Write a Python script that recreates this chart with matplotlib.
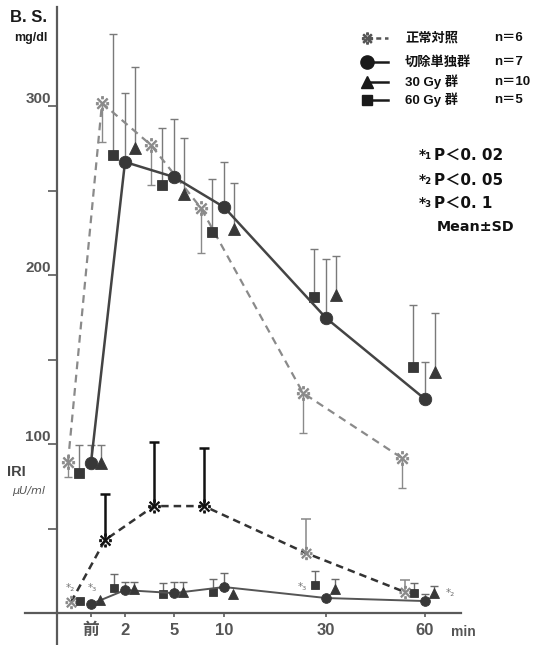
import numpy as np
import matplotlib
matplotlib.use('Agg')
import matplotlib.pyplot as plt
from matplotlib.transforms import ScaledTranslation
from matplotlib.lines import Line2D

plt.rcParams['font.family'] = ['Liberation Sans Narrow', 'Liberation Sans', 'DejaVu Sans']

# 時間 (min)  0 = 前
times = [0, 2, 5, 10, 30, 60]
time_labels = ['前', '2', '5', '10', '30', '60']

# B.S. mg/dl  (mean, SD)
bs_normal = [89.3, 301.8, 276.9, 239.6, 130.2, 91.7]
bs_normal_sd = [8.9, 23.1, 23.6, 26.6, 23.7, 17.8]
bs_resect = [88.8, 266.9, 258.0, 240.2, 174.6, 126.6]
bs_resect_sd = [10.6, 40.8, 34.3, 26.7, 34.9, 21.9]
bs_30gy = [88.8, 275.1, 247.9, 227.2, 188.2, 142.6]
bs_30gy_sd = [10.6, 48.0, 33.2, 27.2, 23.0, 34.9]
bs_60gy = [82.8, 271.0, 253.3, 225.4, 187.0, 145.6]
bs_60gy_sd = [16.6, 71.6, 33.7, 31.4, 28.4, 36.6]

# IRI μU/ml  (mean, SD)
iri_normal = [6.5, 43.2, 63.3, 63.3, 35.5, 12.4]
iri_normal_sd = [np.nan, 27.2, 37.9, 34.3, 20.1, 7.1]
iri_resect = [5.3, 13.6, 11.8, 15.4, 8.9, 7.1]
iri_resect_sd = [np.nan, 4.7, 6.5, 8.3, np.nan, 4.1]
iri_30gy = [7.7, 14.2, 12.4, 11.2, 14.2, 11.8]
iri_30gy_sd = [np.nan, 4.1, 5.9, np.nan, 5.9, 4.2]
iri_60gy = [7.1, 14.8, 11.2, 12.4, 16.6, 11.8]
iri_60gy_sd = [np.nan, 8.3, 6.6, 7.7, 8.3, 6.0]

# points of the normal IRI curve printed in solid black (2, 5, 10 min)
iri_dark = [False, True, True, True, False, False]

W, H = 538, 645
fig = plt.figure(figsize=(W / 100, H / 100), dpi=100)
ax = fig.add_axes([57 / W, 0, 481 / W, 638 / H])

# irregular time axis
knot_t = [-2, 0, 2, 5, 10, 30, 60, 94.2]
knot_p = [57, 91, 125, 174, 224, 326, 425, 538]
ax.set_xscale('function', functions=(lambda x: np.interp(x, knot_t, knot_p),
                                     lambda p: np.interp(p, knot_p, knot_t)))
ax.set_xlim(-2, 94.2)
ax.set_ylim(-18.9, 358.6)

axc = '#5a5a5a'
for s in ['top', 'right']:
    ax.spines[s].set_visible(False)
ax.spines['left'].set_color(axc)
ax.spines['left'].set_linewidth(1.6)
ax.spines['bottom'].set_position(('data', 0))
ax.spines['bottom'].set_bounds(-2, 70.9)
ax.spines['bottom'].set_color(axc)
ax.spines['bottom'].set_linewidth(1.6)
ax.plot([-32 / 481, 0], [0, 0], transform=ax.get_yaxis_transform(), clip_on=False,
        color=axc, lw=1.6)

ax.set_yticks([50, 100, 150, 200, 250, 300], ['', '100', '', '200', '', '300'])
ax.tick_params(axis='y', direction='out', length=6.5, width=1.2, color=axc,
               labelsize=11, labelcolor='#555555', pad=-2)
for lbl in ax.get_yticklabels():
    lbl.set_fontweight('bold')
    lbl.set_va('bottom')

ax.set_xticks(times, time_labels)
ax.tick_params(axis='x', direction='out', length=3, width=1.2, color=axc,
               labelsize=12, labelcolor='#555555', pad=4)
for lbl in ax.get_xticklabels():
    lbl.set_fontweight('bold')
    lbl.set_family(['Liberation Sans Narrow', 'Liberation Sans', 'Noto Sans CJK JP'])


def offset(dx):
    return ax.transData + ScaledTranslation(dx / 100, 0, fig.dpi_scale_trans)


def errbars(t, y, sd, dx, up, color, lw, cap):
    trans = offset(dx)
    sd = np.asarray(sd, float)
    zero = np.zeros_like(sd)
    yerr = [zero, sd] if up else [sd, zero]
    c = ax.errorbar(t, y, yerr=yerr, fmt='none', ecolor=color, elinewidth=lw,
                    capsize=cap, capthick=lw, zorder=2)
    _, caps, bars = c.lines
    caps[0 if up else 1].set_visible(False)
    for a in (*caps, *bars):
        a.set_transform(trans)


def curve(t, y, dx, marker, ms, mcolor, ls='none', lcolor=None, lw=0, dashes=None):
    kw = dict(transform=offset(dx), marker=marker, markersize=ms,
              color=lcolor or mcolor, lw=lw, linestyle=ls, markerfacecolor=mcolor,
              markeredgecolor=mcolor, markeredgewidth=0.6, zorder=3)
    if dashes is not None:
        kw['dashes'] = dashes
    ax.plot(t, y, **kw)


mk = '#383838'
eg = '#7a7a7a'
# B.S.
errbars(times, bs_normal, bs_normal_sd, -23, False, '#8a8a8a', 1.0, 3)
curve(times, bs_normal, -23, '$※$', 10, '#8a8a8a', '--', '#8a8a8a', 1.6, (3.5, 2.5))
errbars(times, bs_60gy, bs_60gy_sd, -12, True, eg, 1.0, 3)
curve(times, bs_60gy, -12, 's', 7.5, mk)
errbars(times, bs_resect, bs_resect_sd, 0, True, eg, 1.0, 3)
curve(times, bs_resect, 0, 'o', 9, mk, '-', '#444444', 1.8)
errbars(times, bs_30gy, bs_30gy_sd, 10, True, eg, 1.0, 3)
curve(times, bs_30gy, 10, '^', 8.5, mk)

# IRI
dark = np.array(iri_dark)
sd_n = np.asarray(iri_normal_sd)
t_arr, y_arr = np.asarray(times), np.asarray(iri_normal)
errbars(times, iri_normal, np.where(dark, sd_n, np.nan), -20, True, '#111111', 1.8, 3.6)
errbars(times, iri_normal, np.where(dark, np.nan, sd_n), -20, True, '#888888', 1.1, 3.3)
curve(times, iri_normal, -20, None, 0, '#333333', '--', '#333333', 1.8, (3, 2))
curve(t_arr[dark], y_arr[dark], -20, '$※$', 9.5, '#111111')
curve(t_arr[~dark], y_arr[~dark], -20, '$※$', 9, '#888888')
errbars(times, iri_60gy, iri_60gy_sd, -11, True, '#6a6a6a', 1.0, 3)
curve(times, iri_60gy, -11, 's', 6, mk)
errbars(times, iri_resect, iri_resect_sd, 0, True, '#6a6a6a', 1.0, 3)
curve(times, iri_resect, 0, 'o', 7, mk, '-', '#555555', 1.4)
errbars(times, iri_30gy, iri_30gy_sd, 9, True, '#6a6a6a', 1.0, 3)
curve(times, iri_30gy, 9, '^', 6.5, mk)


def ft(x, y, s, **kw):
    kw.setdefault('va', 'center')
    return fig.text(x / W, 1 - y / H, s, **kw)


cjk = ['Liberation Sans', 'Noto Sans CJK JP', 'DejaVu Sans']

# axis titles
ft(29, 18, 'B. S.', ha='center', fontsize=12, fontweight='bold', color='#1a1a1a',
   family='Liberation Sans')
ft(31, 38, 'mg/dl', ha='center', fontsize=9, fontweight='bold', color='#1a1a1a',
   family='Liberation Sans')
ft(16, 472, 'IRI', ha='center', fontsize=10.5, fontweight='bold', color='#444444',
   family='Liberation Sans')
ft(29, 491, 'μU/ml', ha='center', fontsize=8, color='#555555', style='italic',
   family='DejaVu Sans')
ft(463, 632, 'min', ha='center', fontsize=10, fontweight='bold', color='#555555',
   family='Liberation Sans')

# legend
leg_names = ['正常対照', '切除単独群', '30 Gy 群', '60 Gy 群']
leg_n = ['n＝6', 'n＝7', 'n＝10', 'n＝5']
leg_marker = ['$※$', 'o', '^', 's']
leg_ls = ['--', '-', '-', '-']
leg_ms = [8, 9.5, 8.5, 7.5]
leg_y = [38, 62, 82, 100]
for name, n, m, ls, ms, y in zip(leg_names, leg_n, leg_marker, leg_ls, leg_ms, leg_y):
    fy = 1 - y / H
    col = '#555555' if m == '$※$' else '#1a1a1a'
    fig.add_artist(Line2D([367 / W, 388 / W], [fy, fy], transform=fig.transFigure,
                          marker=m, markevery=[0], markersize=ms, color=col, lw=1.8,
                          linestyle=ls, dashes=(2, 1.5) if ls == '--' else (None, None),
                          markerfacecolor=col, markeredgecolor=col))
    ft(405, y, name, ha='left', fontsize=9.5, fontweight='bold', color='#111111', family=cjk)
    ft(494, y, n, ha='left', fontsize=9.5, fontweight='bold', color='#111111', family=cjk)

sig = ['*₁', '*₂', '*₃']
sig_p = ['P＜0. 02', 'P＜0. 05', 'P＜0. 1']
for a, p, y in zip(sig, sig_p, [155, 180, 203]):
    ft(419, y, a, ha='left', fontsize=10, fontweight='bold', color='#111111',
       family='DejaVu Sans')
    ft(434, y, p, ha='left', fontsize=11, fontweight='bold', color='#111111',
       family=['DejaVu Sans', 'Noto Sans CJK JP'])
ft(476, 227, 'Mean±SD', ha='center', fontsize=10.3, fontweight='bold', color='#111111',
   family='DejaVu Sans')

# significance marks on IRI
for x, y, s in [(70, 588, '*₂'), (92, 588, '*₃'), (302, 587, '*₃'), (450, 593, '*₂')]:
    ft(x, y, s, ha='center', fontsize=7.5, color='#777777', family='DejaVu Sans')

fig.savefig('out.png', dpi=100)
